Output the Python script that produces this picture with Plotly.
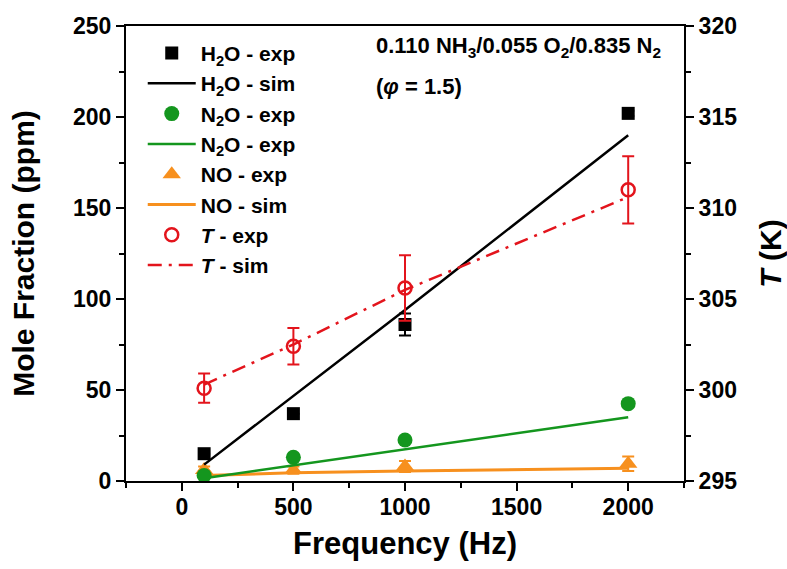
import plotly.graph_objects as go

# Frequency points (Hz)
freq = [100, 500, 1000, 2000]

# Measured mole fractions (ppm) with uncertainties
h2o_exp = [15, 37, 86, 202]
h2o_err = [0, 0, 6, 1.5]
n2o_exp = [3, 13, 22.5, 42.5]
no_exp = [6, 6, 8, 9.5]
no_err = [2, 2, 3, 4]

# Simulated mole fractions (ppm)
h2o_sim = [9, 47, 94, 190]
n2o_sim = [1.5, 8.5, 17.5, 35]
no_sim = [3, 4.5, 5.5, 7]

# Temperature (K), measured and simulated
t_exp = [300.1, 302.4, 305.6, 311.0]
t_err = [0.8, 1.0, 1.8, 1.85]
t_sim = [300.3, 302.5, 305.5, 310.6]

BLACK = "#000000"
GREEN = "#14961e"
ORANGE = "#f7901e"
RED = "#e3141c"
FONT = "Liberation Sans"

fig = go.Figure()

def err(vals, color):
    return dict(type="data", array=vals, visible=True, color=color,
                thickness=2, width=6)

# NO (drawn first so the other markers sit above it)
fig.add_trace(go.Scatter(x=freq, y=no_sim, mode="lines", name="NO - sim",
                         line=dict(color=ORANGE, width=3), legendrank=6))
fig.add_trace(go.Scatter(x=freq, y=no_exp, mode="markers", name="NO - exp",
                         marker=dict(symbol="triangle-up", size=16, color=ORANGE),
                         error_y=err(no_err, ORANGE), legendrank=5))
# N2O
fig.add_trace(go.Scatter(x=freq, y=n2o_sim, mode="lines", name="N<sub>2</sub>O - exp",
                         line=dict(color=GREEN, width=2.5), legendrank=4))
fig.add_trace(go.Scatter(x=freq, y=n2o_exp, mode="markers", name="N<sub>2</sub>O - exp",
                         marker=dict(symbol="circle", size=15, color=GREEN),
                         legendrank=3))
# H2O
fig.add_trace(go.Scatter(x=freq, y=h2o_sim, mode="lines", name="H<sub>2</sub>O - sim",
                         line=dict(color=BLACK, width=2.5), legendrank=2))
fig.add_trace(go.Scatter(x=freq, y=h2o_exp, mode="markers", name="H<sub>2</sub>O - exp",
                         marker=dict(symbol="square", size=13, color=BLACK),
                         error_y=err(h2o_err, BLACK), legendrank=1))
# Temperature on the right axis
fig.add_trace(go.Scatter(x=freq, y=t_exp, mode="markers", name="<i>T</i> - exp",
                         yaxis="y2",
                         marker=dict(symbol="circle-open", size=13, color=RED,
                                     line=dict(width=2.5, color=RED)),
                         error_y=err(t_err, RED), legendrank=7))
fig.add_trace(go.Scatter(x=freq, y=t_sim, mode="lines", name="<i>T</i> - sim",
                         yaxis="y2",
                         line=dict(color=RED, width=2.5, dash="14px,7px,3px,7px"),
                         legendrank=8))

tickfont = dict(family=FONT, size=23, color="black", weight="bold")
titlefont = dict(family=FONT, size=30, color="black", weight="bold")

axis_common = dict(showline=True, linecolor="black", linewidth=2,
                   ticks="outside", ticklen=8, tickwidth=2, tickcolor="black",
                   showgrid=False, zeroline=False, tickfont=tickfont,
                   automargin=False)

fig.update_layout(
    width=787, height=569,
    margin=dict(l=126, r=103, t=26, b=88),
    paper_bgcolor="white", plot_bgcolor="white",
    font=dict(family=FONT, color="black", weight="bold"),
    showlegend=True,
    legend=dict(x=0.03, y=0.985, xanchor="left", yanchor="top",
                bgcolor="rgba(0,0,0,0)", borderwidth=0,
                font=dict(family=FONT, size=21, color="black", weight="bold"),
                traceorder="normal", itemwidth=48, tracegroupgap=0),
    xaxis=dict(range=[-250, 2250], tickvals=[0, 500, 1000, 1500, 2000],
               minor=dict(dtick=250, tick0=0, ticks="outside", ticklen=5,
                          tickwidth=2, tickcolor="black"),
               mirror=True, ticklabelstandoff=-4,
               title=dict(text="Frequency (Hz)", font=dict(titlefont, size=31),
                          standoff=14),
               **axis_common),
    yaxis=dict(range=[0, 250], dtick=50,
               minor=dict(dtick=25, ticks="outside", ticklen=5,
                          tickwidth=2, tickcolor="black"),
               title=dict(text="Mole Fraction (ppm)", font=titlefont, standoff=30),
               **axis_common),
    yaxis2=dict(range=[295, 320], dtick=5, overlaying="y", side="right",
                minor=dict(dtick=2.5, ticks="outside", ticklen=5,
                           tickwidth=2, tickcolor="black"),
                title=dict(text="<i>T</i> (K)", font=titlefont, standoff=24),
                **axis_common),
)

fig.add_annotation(xref="paper", yref="paper", x=0.445, y=0.99,
                   xanchor="left", yanchor="top", showarrow=False,
                   text="0.110 NH<sub>3</sub>/0.055 O<sub>2</sub>/0.835 N<sub>2</sub>",
                   font=dict(family=FONT, size=22, color="black", weight="bold"))
fig.add_annotation(xref="paper", yref="paper", x=0.445, y=0.898,
                   xanchor="left", yanchor="top", showarrow=False,
                   text="(<i>φ</i> = 1.5)",
                   font=dict(family=FONT, size=22, color="black", weight="bold"))

fig.write_html("out.html")
